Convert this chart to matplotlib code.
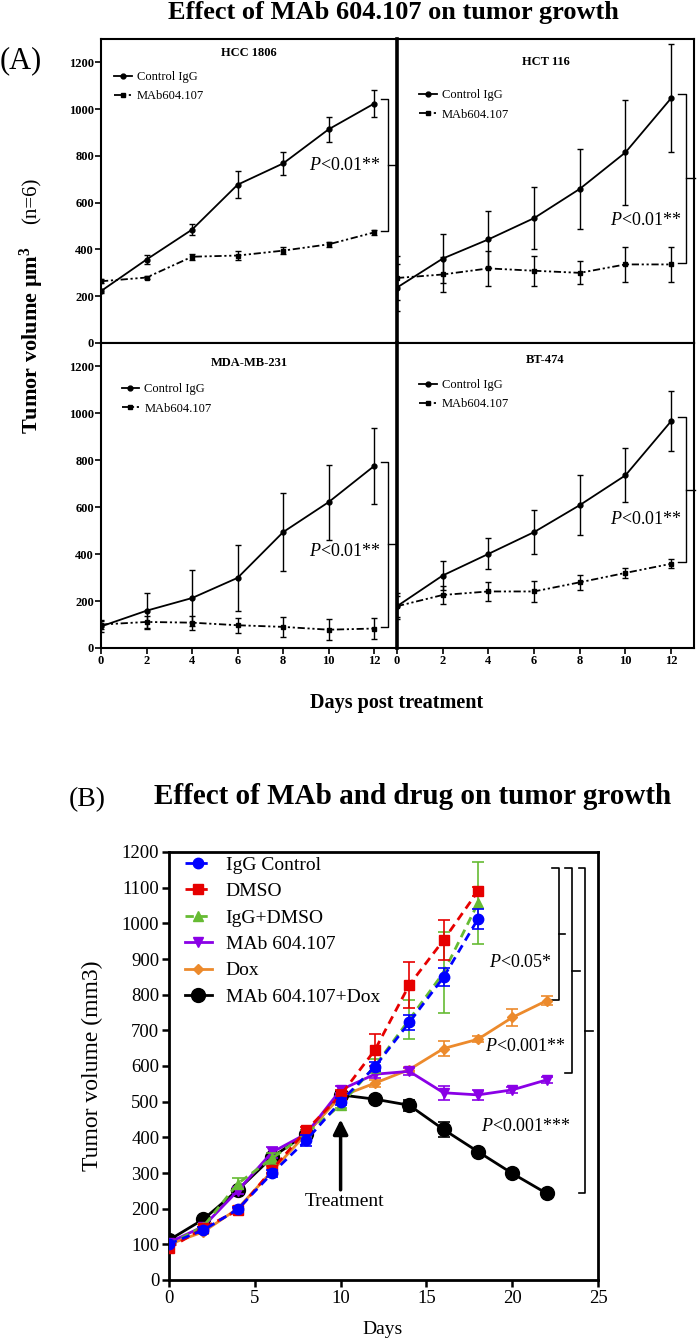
import matplotlib
matplotlib.use('Agg')
import matplotlib.pyplot as plt

plt.rcParams['font.family'] = ['Liberation Serif', 'DejaVu Serif']
plt.rcParams['mathtext.fontset'] = 'custom'
plt.rcParams['mathtext.rm'] = 'Liberation Serif'
plt.rcParams['mathtext.it'] = 'Liberation Serif:italic'
plt.rcParams['mathtext.bf'] = 'Liberation Serif:bold'

# ---- panel A data ----
days_a = [0, 2, 4, 6, 8, 10, 12]
cell_lines = ['HCC 1806', 'HCT 116', 'MDA-MB-231', 'BT-474']

ctrl_hcc = [222, 357, 485, 677, 768, 914, 1024]
ctrl_hcc_err = [10, 21, 24, 59, 50, 53, 57]
mab_hcc = [264, 280, 369, 374, 395, 422, 473]
mab_hcc_err = [8, 8, 12, 18, 14, 12, 12]

ctrl_hct = [237, 361, 443, 534, 659, 815, 1047]
ctrl_hct_err = [100, 105, 120, 132, 171, 225, 232]
mab_hct = [278, 293, 319, 309, 300, 336, 336]
mab_hct_err = [95, 75, 75, 65, 49, 76, 76]

ctrl_mda = [92, 159, 213, 299, 494, 622, 776]
ctrl_mda_err = [25, 76, 118, 141, 167, 160, 163]
mab_mda = [100, 111, 108, 97, 90, 78, 83]
mab_mda_err = [20, 27, 30, 31, 43, 45, 46]

ctrl_bt = [178, 309, 401, 494, 609, 736, 967]
ctrl_bt_err = [55, 60, 66, 93, 128, 115, 128]
mab_bt = [178, 226, 241, 241, 280, 320, 359]
mab_bt_err = [45, 39, 39, 46, 33, 20, 19]

# ---- panel B data ----
days_short = [0, 2, 4, 6, 8, 10, 12, 14, 16, 18]
days_long = [0, 2, 4, 6, 8, 10, 12, 14, 16, 18, 20, 22]

igg = [101, 140, 198, 299, 392, 500, 598, 722, 849, 1012]
igg_err = [5, 8, 8, 10, 15, 10, 12, 22, 25, 28]
dmso = [89, 145, 195, 309, 420, 518, 645, 827, 953, 1090]
dmso_err = [5, 5, 8, 10, 10, 15, 45, 65, 57, 12]
igg_dmso = [100, 150, 270, 341, 410, 491, 600, 730, 862, 1056]
igg_dmso_err = [5, 8, 15, 15, 10, 10, 20, 55, 113, 115]
mab = [105, 150, 250, 358, 410, 533, 577, 585, 525, 519, 533, 561]
mab_err = [5, 8, 10, 15, 10, 10, 10, 10, 20, 15, 8, 8]
dox = [100, 135, 200, 305, 410, 515, 552, 590, 649, 675, 736, 783]
dox_err = [5, 5, 8, 10, 10, 10, 10, 8, 20, 8, 25, 12]
combo = [112, 170, 252, 344, 410, 519, 507, 490, 422, 360, 299, 243]
combo_err = [5, 8, 8, 10, 10, 10, 10, 15, 20, 10, 8, 8]

fig = plt.figure(figsize=(6.97, 13.41), dpi=100)
W, H = 697.0, 1341.0

def fx(px):
    return px / W

def fy(py):
    return 1 - py / H

# ---------------- panel A ----------------
boxes = [(101, 39, 296, 304), (397, 39, 297, 304),
         (101, 343, 296, 305), (397, 343, 297, 305)]
series = [(ctrl_hcc, ctrl_hcc_err, mab_hcc, mab_hcc_err),
          (ctrl_hct, ctrl_hct_err, mab_hct, mab_hct_err),
          (ctrl_mda, ctrl_mda_err, mab_mda, mab_mda_err),
          (ctrl_bt, ctrl_bt_err, mab_bt, mab_bt_err)]
title_y = [0.954, 0.924, 0.934, 0.944]
leg_pos = [(0.045, 0.895), (0.075, 0.835), (0.07, 0.868), (0.075, 0.882)]
p_pos = [(12.28, 758), (12.45, 524), (12.28, 413), (12.45, 548)]
br_x = [(12.3, 12.6, 12.9), (12.3, 12.65, 13.05), (12.3, 12.6, 12.9), (12.3, 12.65, 13.05)]

dashdot2 = (0, (4, 1.5, 1.2, 1.5, 1.2, 1.5))
for i, (l, t, w, h) in enumerate(boxes):
    ax = fig.add_axes([fx(l), fy(t + h), w / W, h / H])
    ctrl, ctrl_err, mb, mb_err = series[i]
    e1 = ax.errorbar(days_a, ctrl, yerr=ctrl_err, color='k', lw=1.3, marker='o', ms=3.5,
                     capsize=2.5, elinewidth=1, capthick=1)
    e2 = ax.errorbar(days_a, mb, yerr=mb_err, color='k', lw=1.3, ls=dashdot2, marker='s', ms=3.5,
                     capsize=2.5, elinewidth=1, capthick=1)
    ax.set_xlim(0, 13)
    ax.set_ylim(0, 1300)
    ax.set_xticks(days_a)
    ax.set_yticks([0, 200, 400, 600, 800, 1000, 1200])
    for s in ax.spines.values():
        s.set_linewidth(1.5)
    ax.tick_params(length=4, width=1.2, labelsize=9, pad=1)
    for lab in ax.get_xticklabels() + ax.get_yticklabels():
        lab.set_fontweight('bold')
    if i in (1, 3):
        ax.spines['left'].set_linewidth(2.6)
        ax.tick_params(axis='y', left=False, labelleft=False)
    if i in (0, 1):
        ax.tick_params(axis='x', bottom=False, labelbottom=False)
    ax.text(0.5, title_y[i], cell_lines[i], transform=ax.transAxes, ha='center', va='center',
            fontsize=9, fontweight='bold')
    ax.legend([e1[0], e2[0]], ['Control IgG', 'MAb604.107'], loc='upper left',
              bbox_to_anchor=leg_pos[i], frameon=False, fontsize=9,
              handlelength=1.4, handletextpad=0.4, labelspacing=0.6, borderpad=0, borderaxespad=0)
    x0, x1, x2 = br_x[i]
    ytop = ctrl[-1] + 18
    ybot = mb[-1] + 6
    ax.plot([x0, x1, x1, x0], [ytop, ytop, ybot, ybot], color='k', lw=1, clip_on=False)
    ax.plot([x1, x2], [(ytop + ybot) / 2] * 2, color='k', lw=1, clip_on=False)
    ax.text(p_pos[i][0], p_pos[i][1], '$\\it{P}$<0.01**', ha='right', va='center', fontsize=13)

fig.text(fx(393), fy(13), 'Effect of MAb 604.107 on tumor growth', ha='center', va='center',
         fontsize=19, fontweight='bold')
fig.text(fx(21), fy(61), '(A)', ha='center', va='center', fontsize=22)
fig.text(fx(32), fy(340), 'Tumor volume µm$^{\\mathbf{3}}$', rotation=90, ha='center', va='center',
         fontsize=16, fontweight='bold')
fig.text(fx(32), fy(201), '(n=6)', rotation=90, ha='center', va='center', fontsize=15)
fig.text(fx(397), fy(703), 'Days post treatment', ha='center', va='center', fontsize=14.5,
         fontweight='bold')

# ---------------- panel B ----------------
axb = fig.add_axes([fx(169), fy(1280), 429 / W, 428 / H])
b_series = [
    ('IgG Control', days_short, igg, igg_err, '#0000ff', (0, (3, 2)), 'o', 7.5, 6),
    ('DMSO', days_short, dmso, dmso_err, '#e60000', (0, (3, 2)), 's', 7, 5),
    ('IgG+DMSO', days_short, igg_dmso, igg_dmso_err, '#66bb33', (0, (3, 2)), '^', 7, 4),
    ('MAb 604.107', days_long, mab, mab_err, '#8a00e6', '-', 'v', 7.5, 3),
    ('Dox', days_long, dox, dox_err, '#ec8a2c', '-', 'D', 5, 2),
    ('MAb 604.107+Dox', days_long, combo, combo_err, 'k', '-', 'o', 10, 1),
]
handles, names = [], []
for name, d, v, e, c, ls, m, ms, z in b_series:
    eb = axb.errorbar(d, v, yerr=e, color=c, ls=ls, lw=2, marker=m, ms=ms, capsize=4,
                      elinewidth=1.2, capthick=1.2, zorder=z)
    handles.append(eb[0])
    names.append(name)
axb.set_xlim(0, 25)
axb.set_ylim(0, 1200)
axb.set_xticks([0, 5, 10, 15, 20, 25])
axb.set_yticks(range(0, 1201, 100))
for s in axb.spines.values():
    s.set_linewidth(2)
axb.tick_params(length=5, width=1.8, labelsize=13.5, pad=2)
axb.legend(handles, names, loc='upper left', bbox_to_anchor=(0.037, 0.99), frameon=False,
           fontsize=14, handlelength=1.4, handletextpad=0.7, labelspacing=0.45,
           borderpad=0, borderaxespad=0)

# brackets
ytop_b = 1154
for (x0, x1, x2), ybot in [((22.3, 22.7, 23.1), dox[-1] + 2),
                           ((23.1, 23.5, 23.95), mab[-1] + 18),
                           ((23.9, 24.25, 24.7), combo[-1])]:
    axb.plot([x0, x1, x1, x0], [ytop_b, ytop_b, ybot, ybot], color='k', lw=1.2)
    axb.plot([x1, x2], [(ytop_b + ybot) / 2] * 2, color='k', lw=1.2)
axb.text(22.3, 890, '$\\it{P}$<0.05*', ha='right', va='center', fontsize=13)
axb.text(23.1, 654, '$\\it{P}$<0.001**', ha='right', va='center', fontsize=13)
axb.text(23.4, 430, '$\\it{P}$<0.001***', ha='right', va='center', fontsize=13)

axb.annotate('', xy=(10, 458), xytext=(10, 245),
             arrowprops=dict(arrowstyle='-|>', color='k', lw=2.5, mutation_scale=22))
axb.text(10.2, 220, 'Treatment', ha='center', va='center', fontsize=14)

fig.text(fx(413), fy(797), 'Effect of MAb and drug on tumor growth', ha='center', va='center',
         fontsize=21, fontweight='bold')
fig.text(fx(87), fy(800), '(B)', ha='center', va='center', fontsize=20)
fig.text(fx(92), fy(1066), 'Tumor volume (mm3)', rotation=90, ha='center', va='center', fontsize=17)
fig.text(fx(383), fy(1329), 'Days', ha='center', va='center', fontsize=14)

fig.savefig('out.png', dpi=100)
